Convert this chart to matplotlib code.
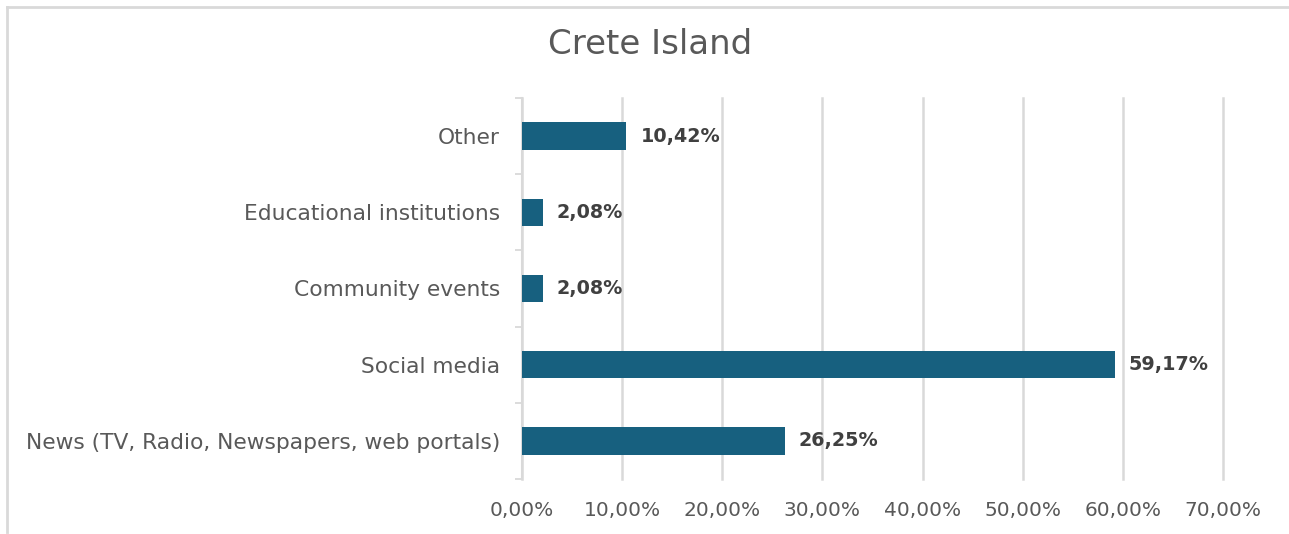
import numpy as np
import matplotlib
matplotlib.use('Agg')
import matplotlib.pyplot as plt
from matplotlib.lines import Line2D
from matplotlib.ticker import FuncFormatter, FixedLocator

# data (bottom to top)
categories = ['News (TV, Radio, Newspapers, web portals)', 'Social media',
              'Community events', 'Educational institutions', 'Other']
values = [26.25, 59.17, 2.08, 2.08, 10.42]
x_ticks = [0, 10, 20, 30, 40, 50, 60, 70]

BAR = '#17607f'
TXT = '#595959'
GRID = '#d9d9d9'

plt.rcParams['font.family'] = ['DejaVu Sans']

fig = plt.figure(figsize=(12.89, 5.34), dpi=100)
ax = fig.add_axes([522/1289, 1-479/534, (1223-522)/1289, (479-98)/534])

y = np.arange(len(categories))
ax.barh(y, values, height=0.36, color=BAR, zorder=3)

for yi, v in zip(y, values):
    ax.text(v + 1.4, yi, f'{v:.2f}%'.replace('.', ','), va='center', ha='left',
            fontsize=13.8, fontweight='bold', color='#404040', zorder=4)

ax.set_xlim(0, 70)
ax.set_ylim(-0.5, len(categories) - 0.5)
ax.set_xticks(x_ticks)
ax.xaxis.set_major_formatter(FuncFormatter(lambda v, p: f'{v:.2f}%'.replace('.', ',')))
ax.set_yticks(y)
ax.set_yticklabels(categories)
ax.yaxis.set_minor_locator(FixedLocator(np.arange(-0.5, len(categories), 1)))

ax.tick_params(axis='y', which='major', length=0, pad=16, labelsize=15.7, labelcolor=TXT)
ax.tick_params(axis='y', which='minor', length=5, width=1.3, color=GRID)
ax.tick_params(axis='x', which='major', length=0, pad=16, labelsize=14.5, labelcolor=TXT)
for lbl in ax.get_yticklabels():
    lbl.set_va('center_baseline')

ax.grid(axis='x', color=GRID, linewidth=1.8, zorder=0)
for gl in ax.get_xgridlines():
    gl.set_clip_on(False)
for s in ['top', 'right', 'bottom']:
    ax.spines[s].set_visible(False)
ax.spines['left'].set_color(GRID)
ax.spines['left'].set_linewidth(1.5)

fig.text(650/1289, 1-45/534, 'Crete Island', ha='center', va='center',
         fontsize=24.5, color=TXT)

# outer chart border (top and left only visible)
fig.add_artist(Line2D([7/1289, 1], [1-7/534, 1-7/534], color='#d9d9d9', lw=2))
fig.add_artist(Line2D([7/1289, 7/1289], [1-7/534, 1-532/534], color='#d9d9d9', lw=2))

fig.savefig('out.png', dpi=100)
